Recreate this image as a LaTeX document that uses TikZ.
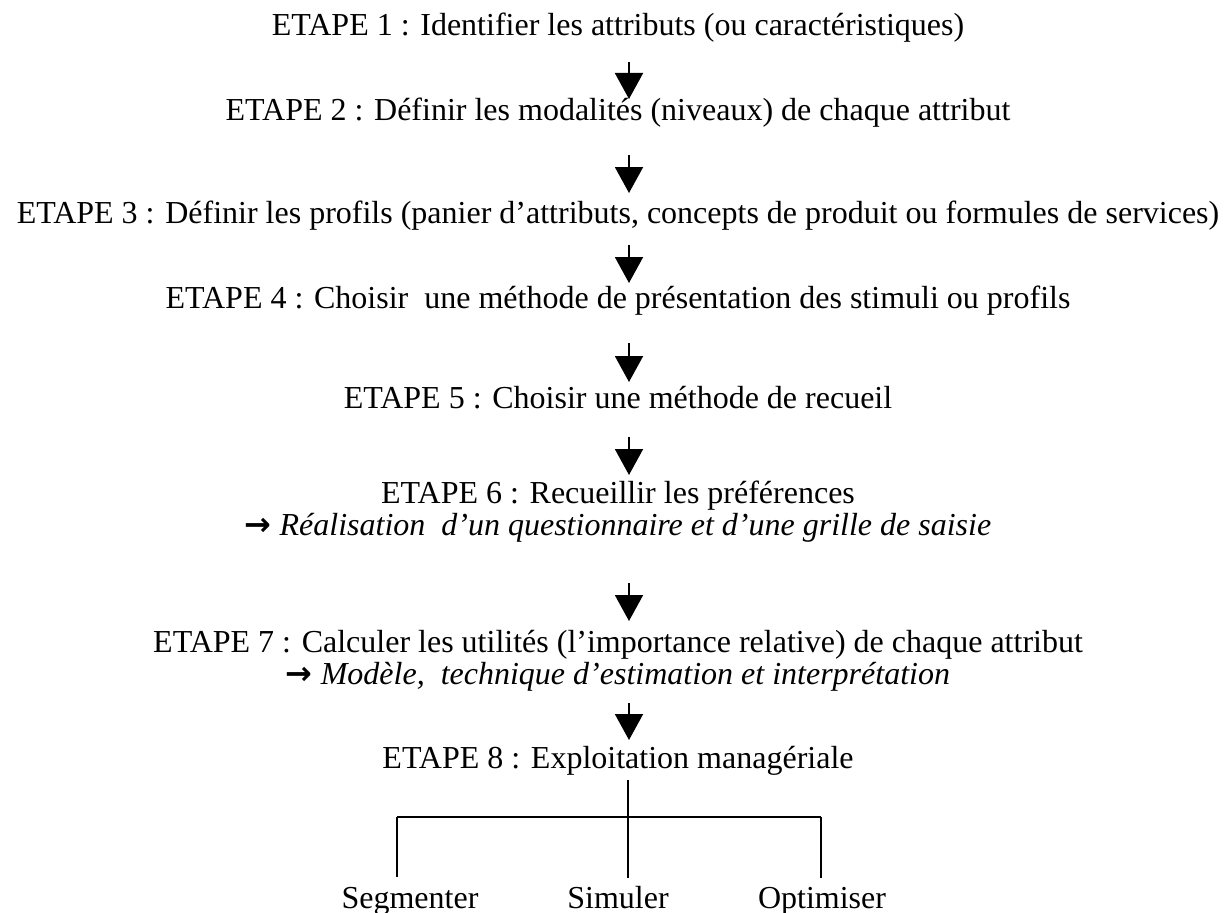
\documentclass[tikz,border=0pt]{standalone}
\usepackage{fontspec}
\setmainfont{Liberation Serif}
\newfontfamily\flechefont{DejaVu Sans}
\usetikzlibrary{arrows.meta}

\newcommand{\versdetail}{{\flechefont\upshape\bfseries →}}

\tikzset{
  etape/.style={anchor=base, inner sep=0pt, font=\fontsize{12.8}{15}\selectfont},
  detail/.style={etape, font=\fontsize{12.8}{15}\selectfont\itshape},
  fleche/.style={line width=0.8pt, -{Triangle[length=10.4pt,width=11.2pt]}},
  branche/.style={line width=0.8pt}
}

\begin{document}
\begin{tikzpicture}[x=0.4pt,y=-0.4pt]
\useasboundingbox (0,0) rectangle (1229,913);
% les etapes
\node[etape] (e1) at (618,36) {ETAPE 1 : Identifier les attributs (ou caractéristiques)};
\node[etape] (e2) at (618,120) {ETAPE 2 : Définir les modalités (niveaux) de chaque attribut};
\node[etape] (e3) at (618,223) {ETAPE 3 : Définir les profils (panier d’attributs, concepts de produit ou formules de services)};
\node[etape] (e4) at (618,308) {ETAPE 4 : Choisir\ \ une méthode de présentation des stimuli ou profils};
\node[etape] (e5) at (618,408) {ETAPE 5 : Choisir une méthode de recueil};
\node[etape] (e6) at (618,503) {ETAPE 6 : Recueillir les préférences};
\node[detail] (r6) at (618,535) {\versdetail\ Réalisation\ \ d’un questionnaire et d’une grille de saisie};
\node[etape] (e7) at (618,652) {ETAPE 7 : Calculer les utilités (l’importance relative) de chaque attribut};
\node[detail] (r7) at (618,684) {\versdetail\ Modèle,\ \ technique d’estimation et interprétation};
\node[etape] (e8) at (618,768) {ETAPE 8 : Exploitation managériale};
\node[etape] (seg) at (410,908) {Segmenter};
\node[etape] (sim) at (618,908) {Simuler};
\node[etape] (opt) at (822,908) {Optimiser};
% les fleches
\coordinate (d1) at (629,62);  \coordinate (f1) at (629,99);
\coordinate (d2) at (629,155); \coordinate (f2) at (629,193);
\coordinate (d3) at (629,245); \coordinate (f3) at (629,283);
\coordinate (d4) at (629,343); \coordinate (f4) at (629,382);
\coordinate (d5) at (629,437); \coordinate (f5) at (629,475);
\coordinate (d6) at (629,583); \coordinate (f6) at (629,621);
\coordinate (d7) at (629,703); \coordinate (f7) at (629,740);
\draw[fleche] (d1) -- (f1);
\draw[fleche] (d2) -- (f2);
\draw[fleche] (d3) -- (f3);
\draw[fleche] (d4) -- (f4);
\draw[fleche] (d5) -- (f5);
\draw[fleche] (d6) -- (f6);
\draw[fleche] (d7) -- (f7);
% l'arbre du bas
\coordinate (b0) at (628,780);
\coordinate (b1) at (628,817);
\coordinate (bl) at (397,817);
\coordinate (br) at (821,817);
\coordinate (sl) at (397,877);
\coordinate (sm) at (628,878);
\coordinate (sr) at (821,878);
\draw[branche] (b0) -- (b1);
\draw[branche] (bl) -- (br);
\draw[branche] (bl) -- (sl);
\draw[branche] (b1) -- (sm);
\draw[branche] (br) -- (sr);
\end{tikzpicture}
\end{document}
